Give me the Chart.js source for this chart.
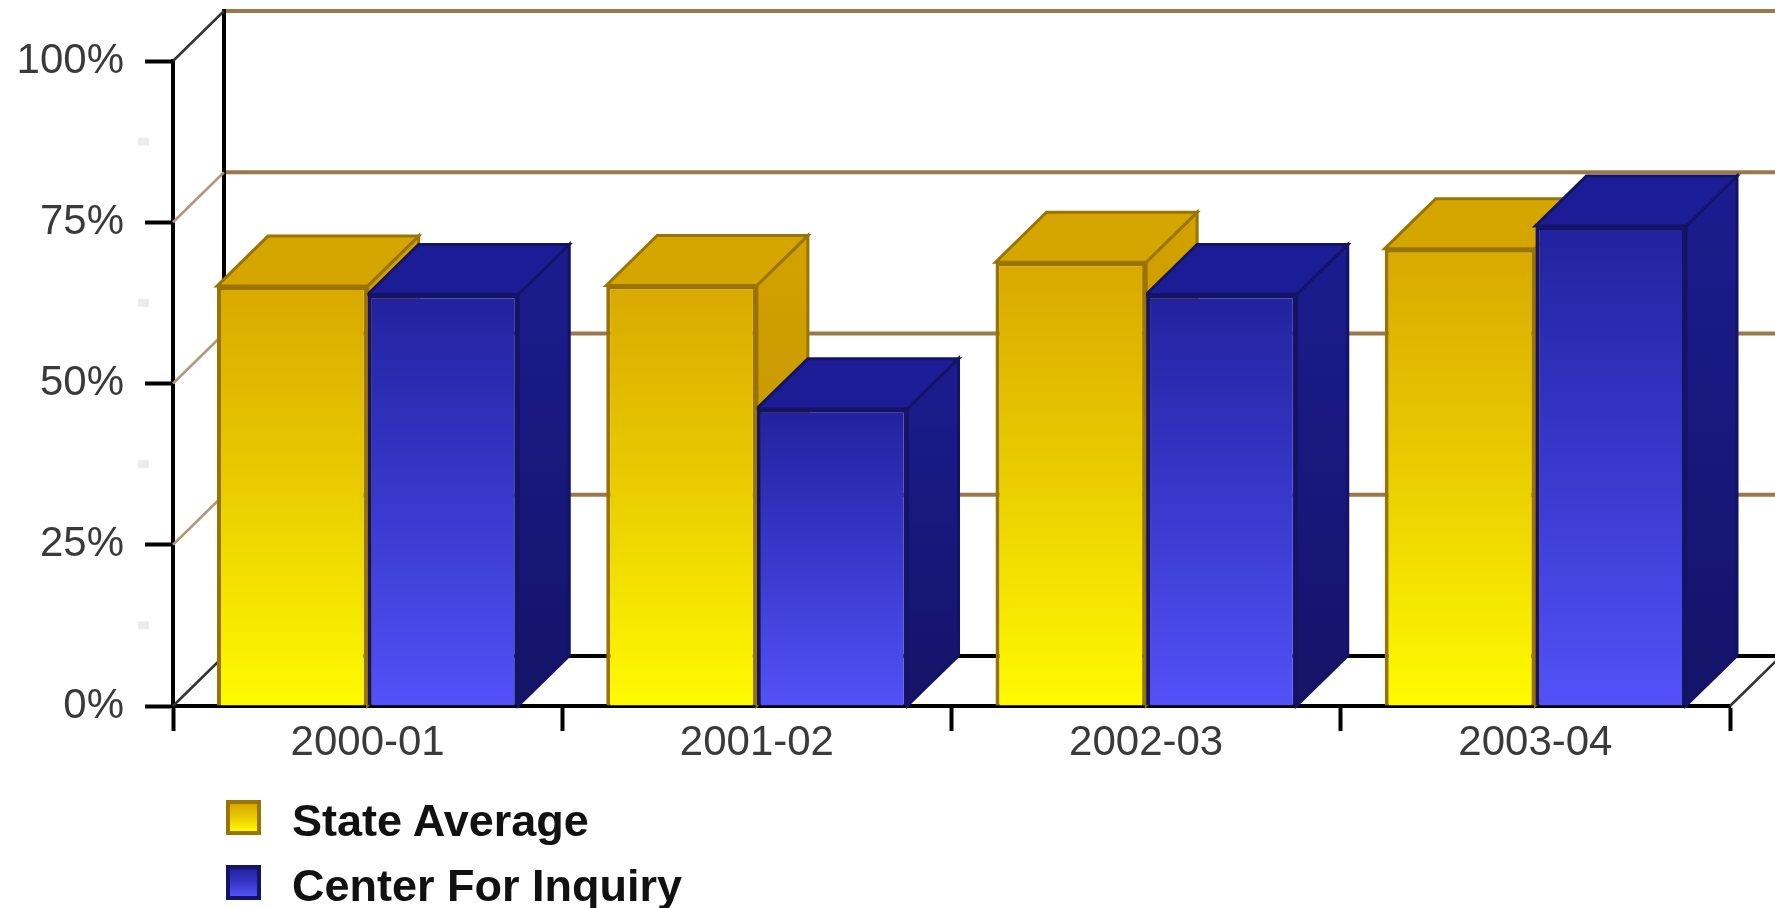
<!DOCTYPE html>
<html><head><meta charset="utf-8">
<script src="https://cdn.jsdelivr.net/npm/chart.js@4.4.0/dist/chart.umd.min.js"></script>
<style>
html,body{margin:0;padding:0;background:#fff;}
#wrap{position:relative;width:1775px;height:908px;overflow:hidden;}
canvas{position:absolute;left:0;top:0;}
.item{position:absolute;left:226px;height:35px;display:flex;align-items:center;font-family:"Liberation Sans",Arial,sans-serif;font-weight:bold;font-size:45px;color:#111;white-space:nowrap;}
.sw{width:35px;height:35px;box-sizing:border-box;border:4px solid;margin-right:31px;flex:none;}
.txt{position:relative;top:3px;}
</style></head>
<body><div id="wrap"><canvas id="c" width="1775" height="908"></canvas></div>
<script>
const categories = ['2000-01', '2001-02', '2002-03', '2003-04'];
const stateAverage = [65.1, 65.2, 68.8, 70.9];
const centerForInquiry = [63.8, 46.1, 63.8, 74.4];
const seriesLabels = ['State Average', 'Center For Inquiry'];
const yTicks = [0, 25, 50, 75, 100];
const minorTicks = [12.5, 37.5, 62.5, 87.5];

const DX = 51, DY = 50;
const styles = [
  {front: ['#D8A800', '#E8CA00', '#FFFA00'], top: '#D6A600', side: ['#D2A200', '#BC8E00'], border: '#9A7400'},
  {front: ['#22229E', '#3636C8', '#5252F8'], top: '#1C1C96', side: ['#1C1C90', '#141468'], border: '#141466'}
];

function frontFill(di) {
  return (c) => {
    const chart = c.chart, a = chart.chartArea;
    if (!a || c.type !== 'data' || !chart.scales.y) return styles[di].front[1];
    const ys = chart.scales.y;
    const top = ys.getPixelForValue(c.raw), bot = ys.getPixelForValue(0);
    const g = chart.ctx.createLinearGradient(0, top, 0, bot);
    g.addColorStop(0, styles[di].front[0]);
    g.addColorStop(0.45, styles[di].front[1]);
    g.addColorStop(1, styles[di].front[2]);
    return g;
  };
}

const threeD = {
  id: 'threeD',
  beforeDatasetsDraw(chart) {
    const ctx = chart.ctx, a = chart.chartArea, ys = chart.scales.y, W = chart.width;
    const y0 = ys.getPixelForValue(0), y100 = ys.getPixelForValue(100);
    ctx.save();
    // back wall gridlines
    ctx.lineWidth = 4; ctx.strokeStyle = '#9B784B';
    yTicks.forEach(v => {
      if (v === 0) return;
      const py = ys.getPixelForValue(v) - DY;
      ctx.beginPath(); ctx.moveTo(a.left + DX, py); ctx.lineTo(W, py); ctx.stroke();
    });
    // back floor line
    ctx.strokeStyle = '#000';
    ctx.beginPath(); ctx.moveTo(a.left + DX, y0 - DY); ctx.lineTo(W, y0 - DY); ctx.stroke();
    // back wall vertical
    ctx.beginPath(); ctx.moveTo(a.left + DX, y100 - DY - 2); ctx.lineTo(a.left + DX, y0 - DY); ctx.stroke();
    // left wall diagonals
    ctx.lineWidth = 2.5;
    yTicks.forEach(v => {
      const py = ys.getPixelForValue(v);
      ctx.strokeStyle = (v === 0 || v === 100) ? '#333' : '#B09878';
      ctx.beginPath(); ctx.moveTo(a.left, py); ctx.lineTo(a.left + DX, py - DY); ctx.stroke();
    });
    // right floor diagonal
    ctx.strokeStyle = '#333';
    ctx.beginPath(); ctx.moveTo(a.right, y0); ctx.lineTo(a.right + DX, y0 - DY); ctx.stroke();
    // faint minor ticks
    ctx.fillStyle = '#ececec';
    minorTicks.forEach(v => {
      const py = ys.getPixelForValue(v);
      ctx.fillRect(a.left - 35, py - 4, 11, 8);
    });
    // 3D top and side faces
    ctx.lineWidth = 3; ctx.lineJoin = 'miter';
    chart.data.datasets.forEach((ds, di) => {
      const meta = chart.getDatasetMeta(di), st = styles[di];
      meta.data.forEach(bar => {
        const p = bar.getProps(['x', 'y', 'base', 'width'], true);
        const l = p.x - p.width / 2, r = p.x + p.width / 2, top = p.y, base = p.base;
        ctx.strokeStyle = st.border;
        const g = ctx.createLinearGradient(0, top - DY, 0, base);
        g.addColorStop(0, st.side[0]); g.addColorStop(1, st.side[1]);
        ctx.fillStyle = g;
        ctx.beginPath();
        ctx.moveTo(r, top); ctx.lineTo(r + DX, top - DY); ctx.lineTo(r + DX, base - DY); ctx.lineTo(r, base);
        ctx.closePath(); ctx.fill(); ctx.stroke();
        ctx.fillStyle = st.top;
        ctx.beginPath();
        ctx.moveTo(l, top); ctx.lineTo(l + DX, top - DY); ctx.lineTo(r + DX, top - DY); ctx.lineTo(r, top);
        ctx.closePath(); ctx.fill(); ctx.stroke();
      });
    });
    ctx.restore();
  }
};

const seriesData = [stateAverage, centerForInquiry];
const chart = new Chart(document.getElementById('c'), {
  type: 'bar',
  data: {
    labels: categories,
    datasets: seriesData.map((d, i) => ({
      label: seriesLabels[i],
      data: d,
      backgroundColor: frontFill(i),
      borderColor: styles[i].border,
      borderWidth: 4,
      categoryPercentage: 0.774,
      barPercentage: 1.0
    }))
  },
  options: {
    responsive: false,
    animation: false,
    devicePixelRatio: 1,
    layout: {padding: {top: 61, right: 45, bottom: 0, left: 0}},
    plugins: {legend: {display: false}, tooltip: {enabled: false}},
    scales: {
      y: {
        min: 0, max: 100,
        afterFit: s => { s.width = 173; },
        afterBuildTicks: s => { s.ticks = yTicks.map(v => ({value: v})); },
        ticks: {
          callback: v => v + '%',
          padding: 21,
          color: '#3a3a3a',
          font: {family: 'Liberation Sans', size: 42}
        },
        grid: {drawOnChartArea: false, drawTicks: true, tickLength: 28, tickWidth: 4, tickColor: '#000'},
        border: {display: true, color: '#000', width: 4}
      },
      x: {
        afterFit: s => { s.height = 202; },
        ticks: {
          padding: -13,
          color: '#3a3a3a',
          font: {family: 'Liberation Sans', size: 42},
          maxRotation: 0
        },
        grid: {offset: true, drawOnChartArea: false, drawTicks: true, tickLength: 25, tickWidth: 4, tickColor: '#000'},
        border: {display: true, color: '#000', width: 4}
      }
    }
  },
  plugins: [threeD]
});

// HTML legend built from the series
const wrap = document.getElementById('wrap');
const legendTops = [800, 865];
seriesLabels.forEach((lab, i) => {
  const it = document.createElement('div');
  it.className = 'item';
  it.style.top = legendTops[i] + 'px';
  const sw = document.createElement('div');
  sw.className = 'sw';
  sw.style.borderColor = styles[i].border;
  sw.style.background = 'linear-gradient(to bottom,' + styles[i].front[0] + ',' + styles[i].front[1] + ',' + styles[i].front[2] + ')';
  const tx = document.createElement('span');
  tx.className = 'txt';
  tx.textContent = lab;
  it.appendChild(sw); it.appendChild(tx);
  wrap.appendChild(it);
});
</script>
</body></html>
